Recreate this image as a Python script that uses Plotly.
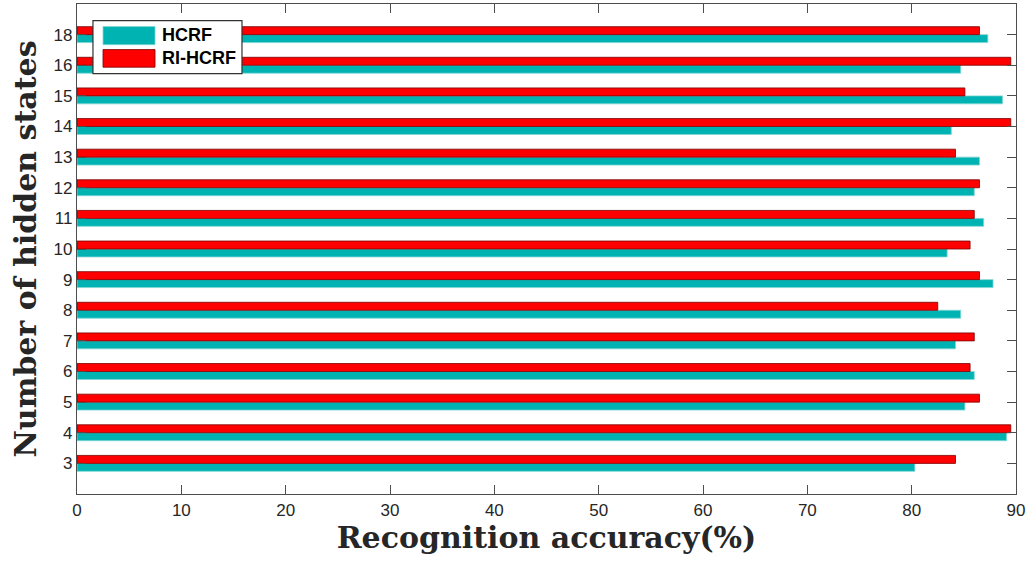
import plotly.graph_objects as go

states = ["3", "4", "5", "6", "7", "8", "9", "10", "11", "12", "13", "14", "15", "16", "18"]
hcrf = [80.3, 89.1, 85.1, 86.0, 84.2, 84.7, 87.8, 83.4, 86.9, 86.0, 86.5, 83.8, 88.7, 84.7, 87.3]
ri_hcrf = [84.2, 89.5, 86.5, 85.6, 86.0, 82.5, 86.5, 85.6, 86.0, 86.5, 84.2, 89.5, 85.1, 89.5, 86.5]
x_ticks = [0, 10, 20, 30, 40, 50, 60, 70, 80, 90]

TEAL = "#00B3B3"
RED = "#FF0000"
pos = list(range(1, len(states) + 1))

fig = go.Figure()
fig.add_trace(go.Bar(y=pos, x=hcrf, orientation="h", name="HCRF",
                     marker=dict(color=TEAL, line=dict(color="#7fd6d6", width=0.8))))
fig.add_trace(go.Bar(y=pos, x=ri_hcrf, orientation="h", name="RI-HCRF",
                     marker=dict(color=RED, line=dict(color="#7a0000", width=0.8))))

axis_common = dict(showline=True, linecolor="#4d4d4d", linewidth=1.3, mirror="ticks",
                   ticks="inside", ticklen=9, tickwidth=1.3, tickcolor="#4d4d4d",
                   showgrid=False, zeroline=False, automargin=False,
                   tickfont=dict(family="Liberation Sans, Arial", size=17, color="#262626"))

fig.update_layout(
    width=1027, height=566,
    margin=dict(l=77, r=11, t=3.5, b=72),
    paper_bgcolor="white", plot_bgcolor="white",
    barmode="group", bargap=0.48, bargroupgap=0,
    showlegend=False,
    xaxis=dict(range=[0, 90], tickvals=x_ticks, ticktext=[str(v) for v in x_ticks],
               title=dict(text="<b>Recognition accuracy(%)</b>",
                          font=dict(family="DejaVu Serif", size=30, color="#262626"),
                          standoff=4),
               **axis_common),
    yaxis=dict(range=[0, 16], tickvals=pos, ticktext=states,
               title=dict(text="<b>Number of hidden states</b>",
                          font=dict(family="DejaVu Serif", size=30, color="#262626"),
                          standoff=8),
               **axis_common),
)

# legend box (manual, to match swatch sizes)
fig.add_shape(type="rect", xref="paper", yref="paper", x0=0.017, x1=0.1757, y0=0.858, y1=0.966,
              fillcolor="white", line=dict(color="#333333", width=1.2), layer="above")
fig.add_shape(type="rect", xref="paper", yref="paper", x0=0.0277, x1=0.0831, y0=0.917, y1=0.954,
              fillcolor=TEAL, line=dict(color="#7fd6d6", width=0.8), layer="above")
fig.add_shape(type="rect", xref="paper", yref="paper", x0=0.0277, x1=0.0831, y0=0.871, y1=0.907,
              fillcolor=RED, line=dict(color="#7a0000", width=0.8), layer="above")
for name, yc in [("HCRF", 0.936), ("RI-HCRF", 0.889)]:
    fig.add_annotation(xref="paper", yref="paper", x=0.0884, y=yc, text="<b>%s</b>" % name,
                       showarrow=False, xanchor="left", yanchor="middle",
                       font=dict(family="Liberation Sans, Arial", size=18, color="black"))

fig.write_html("out.html", config={"displayModeBar": False},
               post_script="document.body.style.margin='0';document.body.style.overflow='hidden';")
